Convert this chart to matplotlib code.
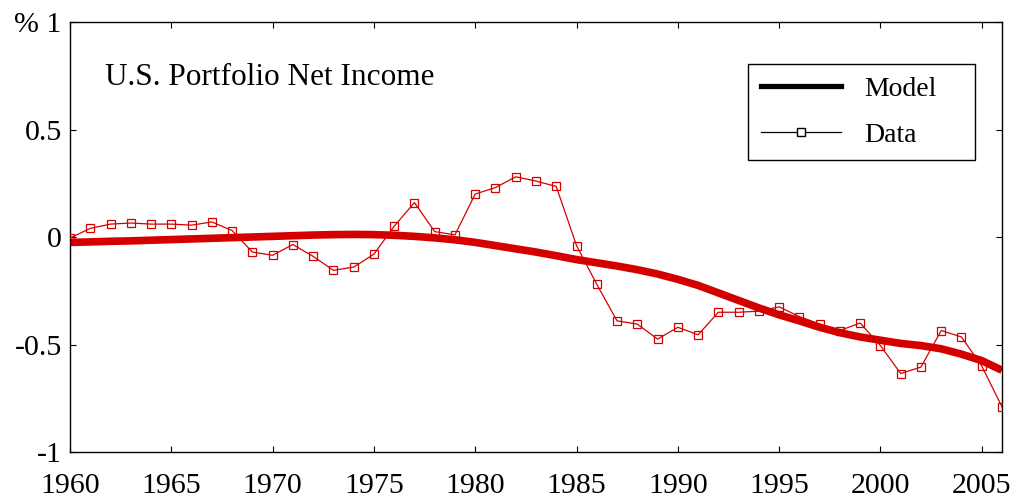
import matplotlib
matplotlib.use("Agg")
import matplotlib.pyplot as plt
from matplotlib.lines import Line2D

plt.rcParams['font.family'] = ['Liberation Serif', 'DejaVu Serif']

years = list(range(1960, 2007))
data_values = [-0.005, 0.04, 0.06, 0.065, 0.06, 0.06, 0.055, 0.07, 0.03, -0.07,
               -0.085, -0.035, -0.09, -0.155, -0.14, -0.08, 0.05, 0.16, 0.025, 0.01,
               0.2, 0.23, 0.28, 0.26, 0.235, -0.04, -0.22, -0.39, -0.405, -0.475,
               -0.42, -0.455, -0.35, -0.35, -0.345, -0.325, -0.37, -0.405, -0.435, -0.40,
               -0.505, -0.635, -0.605, -0.435, -0.465, -0.60, -0.79]
model_values = [-0.025, -0.023, -0.02, -0.018, -0.015, -0.012, -0.009, -0.006, -0.003, 0.0,
                0.003, 0.006, 0.009, 0.011, 0.012, 0.011, 0.008, 0.003, -0.004, -0.013,
                -0.025, -0.04, -0.055, -0.07, -0.087, -0.105, -0.12, -0.135, -0.152, -0.172,
                -0.197, -0.225, -0.26, -0.295, -0.33, -0.362, -0.39, -0.42, -0.445, -0.465,
                -0.48, -0.495, -0.505, -0.52, -0.545, -0.575, -0.62]
xticks = [1960, 1965, 1970, 1975, 1980, 1985, 1990, 1995, 2000, 2005]
yticks = [-1, -0.5, 0, 0.5, 1]
ytick_labels = ['-1', '-0.5', '0', '0.5', '% 1']
title_text = 'U.S. Portfolio Net Income'

red = '#d40000'

fig = plt.figure(figsize=(10.18, 5.04), dpi=100)
ax = fig.add_axes([70/1018, 1-452/504, (1002-70)/1018, (452-22)/504])

ax.plot(years, model_values, color=red, lw=5.5, solid_capstyle='butt', zorder=2)
ax.plot(years, data_values, color=red, lw=0.9, marker='s', markersize=6,
        markerfacecolor='none', markeredgecolor=red, markeredgewidth=0.9, zorder=3)

ax.set_xlim(1960, 2006)
ax.set_ylim(-1, 1)
ax.set_xticks(xticks)
ax.set_xticklabels([str(x) for x in xticks])
ax.set_yticks(yticks)
ax.set_yticklabels(ytick_labels)
ax.tick_params(direction='in', length=4, width=0.8, top=True, right=True,
               labelsize=21.5, pad=6)
ax.tick_params(axis='x', pad=15)
for s in ax.spines.values():
    s.set_linewidth(1.0)

ax.text(0.038, 0.853, title_text, fontsize=22.5, transform=ax.transAxes,
        ha='left', va='baseline')

handles = [Line2D([], [], color='black', lw=3.8),
           Line2D([], [], color='black', lw=0.9, marker='s', markersize=5.5,
                  markerfacecolor='white', markeredgecolor='black', markevery=[1])]
leg = ax.legend(handles, ['Model', 'Data'], loc='upper left',
                bbox_to_anchor=(0.7275, 0.902, 0.2435, 0.0), mode='expand',
                fontsize=20, frameon=True,
                fancybox=False, edgecolor='black', framealpha=1,
                handlelength=2.9, handletextpad=0.85, labelspacing=0.72,
                borderpad=0.45, borderaxespad=0)
leg.get_frame().set_linewidth(1.0)

fig.savefig('out.png', dpi=100)
